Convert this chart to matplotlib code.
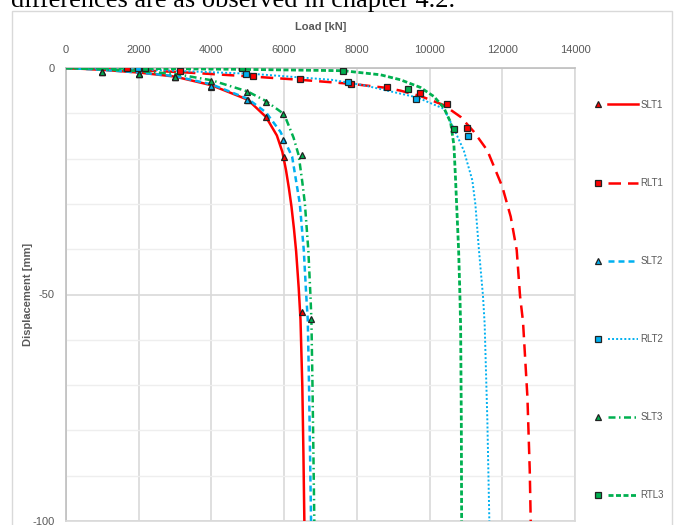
import numpy as np
import matplotlib
matplotlib.use('Agg')
import matplotlib.pyplot as plt
from matplotlib.lines import Line2D
from matplotlib.legend_handler import HandlerTuple
from matplotlib.patches import Rectangle

# ---- measured points (markers) ----
slt1_load = [1000, 2000, 3000, 4000, 5000, 5500, 6000, 6480]
slt1_disp = [-0.8, -1.4, -2.0, -4.1, -7.1, -10.9, -19.7, -53.8]
rlt1_load = [1670, 3140, 5140, 6430, 7850, 8830, 9730, 10490, 11040]
rlt1_disp = [0.0, -0.6, -1.8, -2.5, -3.5, -4.1, -5.6, -8.0, -13.2]
slt2_load = [1000, 2000, 3000, 4000, 4980, 5980]
slt2_disp = [-0.8, -1.4, -2.0, -3.9, -7.1, -15.9]
rlt2_load = [1975, 4950, 7750, 9640, 11050]
rlt2_disp = [0.0, -1.4, -3.0, -6.9, -15.0]
slt3_load = [1000, 2000, 2985, 4000, 4980, 5500, 5980, 6480, 6750]
slt3_disp = [-0.8, -1.4, -1.9, -2.8, -5.3, -7.4, -10.1, -19.2, -55.3]
rtl3_load = [2175, 4850, 7620, 9420, 10670]
rtl3_disp = [0.0, -0.1, -0.6, -4.6, -13.5]

# ---- fitted curves ----
slt1_fit_load = [0, 1000, 2000, 3000, 4000, 4500, 5000, 5500, 5800, 5950, 6050, 6130, 6200,
                 6270, 6330, 6400, 6450, 6500, 6530, 6556]
slt1_fit_disp = [0, -0.4, -1.0, -1.9, -3.8, -5.4, -7.0, -10.8, -14.9, -18.5, -22.5, -26.5, -30.5,
                 -35.5, -40.5, -48.5, -55.6, -70.3, -85.0, -100]
rlt1_fit_load = [0, 2000, 3140, 5140, 6430, 7850, 8830, 9200, 9750, 10394, 10854, 11221,
                 11589, 12000, 12231, 12397, 12488, 12570, 12691, 12755, 12782]
rlt1_fit_disp = [0, -0.5, -0.9, -1.9, -2.6, -3.5, -4.4, -5.0, -6.2, -8.2, -10.8, -14.1,
                 -18.2, -26.2, -32.8, -40.2, -50.3, -56.0, -72.6, -88.7, -100]
slt2_fit_load = [0, 1000, 2000, 3000, 4000, 5000, 5500, 5900, 6220, 6430, 6540, 6610,
                 6650, 6685, 6740]
slt2_fit_disp = [0, -0.4, -1.0, -1.8, -3.6, -6.8, -9.8, -14.1, -19.6, -29.9, -40.2, -50.5,
                 -55.6, -70.3, -100]
rlt2_fit_load = [0, 2000, 5150, 7300, 8190, 9110, 9660, 10070, 10394, 10670, 10945, 11176,
                 11260, 11358, 11469, 11515, 11589, 11644]
rlt2_fit_disp = [0, -0.3, -1.3, -2.6, -3.8, -5.5, -6.5, -7.9, -9.0, -13.4, -18.3, -24.8,
                 -30.1, -40.2, -50.3, -56.5, -77.7, -100]
slt3_fit_load = [0, 1000, 2000, 3000, 4000, 5000, 5500, 6000, 6260, 6400, 6500, 6570,
                 6665, 6725, 6750, 6780, 6830]
slt3_fit_disp = [0, -0.3, -0.7, -1.3, -2.7, -5.2, -7.3, -10.2, -15.4, -19.3, -25.2, -29.9,
                 -40.2, -50.5, -55.6, -70.3, -100]
rtl3_fit_load = [0, 2000, 4850, 7620, 8650, 9200, 9750, 10120, 10394, 10579, 10670, 10716,
                 10744, 10799, 10835, 10854, 10873, 10882]
rtl3_fit_disp = [0, -0.1, -0.3, -0.6, -1.5, -2.6, -4.3, -6.3, -8.8, -12.0, -17.1, -24.8,
                 -30.1, -40.2, -50.3, -57.0, -77.7, -100]

labels = ['SLT1', 'RLT1', 'SLT2', 'RLT2', 'SLT3', 'RTL3']

red = '#FF0000'
blue = '#00B0F0'
green = '#00B050'
grey_txt = '#595959'

plt.rcParams['font.family'] = ['Liberation Sans', 'DejaVu Sans']
plt.rcParams['axes.unicode_minus'] = False

fig = plt.figure(figsize=(6.76, 5.25), dpi=100)

# chart area border + cut-off text line above the chart
fig.add_artist(Rectangle((12 / 676, -0.05), 660 / 676, 1.05 - 11 / 525,
                         transform=fig.transFigure, fill=False,
                         edgecolor='#d9d9d9', linewidth=1.0))
fig.text(11 / 676, 1 - 7 / 525, 'differences are as observed in chapter 4.2.',
         family='Liberation Serif', fontsize=19, va='baseline', ha='left', color='black')

ax = fig.add_axes([66 / 676, 1 - 521 / 525, 509 / 676, 453 / 525])

series = [
    (slt1_load, slt1_disp, slt1_fit_load, slt1_fit_disp, red, '^', dict(linestyle='-', linewidth=1.8)),
    (rlt1_load, rlt1_disp, rlt1_fit_load, rlt1_fit_disp, red, 's', dict(dashes=(5, 2.8), linewidth=1.8)),
    (slt2_load, slt2_disp, slt2_fit_load, slt2_fit_disp, blue, '^', dict(dashes=(2.4, 1.6), linewidth=1.8)),
    (rlt2_load, rlt2_disp, rlt2_fit_load, rlt2_fit_disp, blue, 's', dict(dashes=(1, 1.1), linewidth=1.4)),
    (slt3_load, slt3_disp, slt3_fit_load, slt3_fit_disp, green, '^', dict(dashes=(2.8, 1.4, 0.6, 1.4), linewidth=1.8)),
    (rtl3_load, rtl3_disp, rtl3_fit_load, rtl3_fit_disp, green, 's', dict(dashes=(1.8, 0.9), linewidth=2.0)),
]

handles = []
for (ml, md, fl, fd, col, mk, ls) in series:
    ax.plot(fl, fd, color=col, zorder=3, **ls)
    ms = 5.0 if mk == '^' else 4.3
    ax.plot(ml, md, linestyle='none', marker=mk, markersize=ms, markerfacecolor=col,
            markeredgecolor='#222222', markeredgewidth=0.9, zorder=4)
    h_mk = Line2D([], [], linestyle='none', marker=mk, markersize=ms, markerfacecolor=col,
                  markeredgecolor='#222222', markeredgewidth=0.9)
    h_ln = Line2D([], [], color=col, **ls)
    handles.append((h_mk, h_ln))

ax.set_xlim(0, 14000)
ax.set_ylim(-100, 0)
ax.set_xticks(np.arange(0, 14001, 2000))
ax.set_yticks([0, -50, -100])
ax.set_yticks(np.arange(-90, 0, 10), minor=True)
ax.xaxis.tick_top()
ax.xaxis.set_label_position('top')
ax.tick_params(axis='both', which='both', length=0, labelsize=8, labelcolor=grey_txt)
ax.tick_params(axis='x', pad=9.5)
ax.tick_params(axis='y', pad=8)
ax.grid(True, which='major', color='#d9d9d9', linewidth=1.2, zorder=0)
ax.grid(True, which='minor', axis='y', color='#eeeeee', linewidth=1.0, zorder=0)
ax.set_axisbelow(True)
for s in ax.spines.values():
    s.set_color('#d9d9d9')
    s.set_linewidth(1.2)
ax.spines['top'].set_color('#bfbfbf')
ax.spines['left'].set_color('#bfbfbf')

ax.set_xlabel('Load [kN]', fontsize=8, fontweight='bold', color=grey_txt, labelpad=10.5)
ax.set_ylabel('Displacement [mm]', fontsize=8, fontweight='bold', color=grey_txt)
ax.yaxis.set_label_coords(-0.065, 0.5)

fig.legend(handles, labels, handler_map={tuple: HandlerTuple(ndivide=2, pad=-0.6)},
           loc='center left', bbox_to_anchor=(583 / 676, 1 - 300 / 525),
           frameon=False, fontsize=7, labelcolor=grey_txt, handlelength=5.66,
           handletextpad=0.26, labelspacing=7.0, borderpad=0, borderaxespad=0,
           numpoints=1)

fig.savefig('out.png', dpi=100)
